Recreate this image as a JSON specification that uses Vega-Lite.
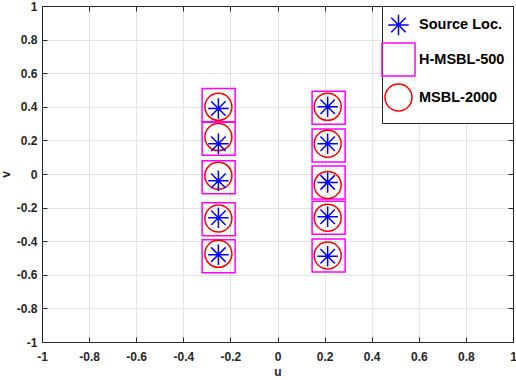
{
  "$schema": "https://vega.github.io/schema/vega-lite/v6.json",
  "width": 471,
  "height": 336,
  "autosize": "none",
  "padding": {"left": 42, "top": 6, "right": 3, "bottom": 38},
  "background": "white",
  "config": {
    "view": {"stroke": "#262626", "strokeWidth": 1},
    "font": "Liberation Sans",
    "axis": {
      "labelFont": "Liberation Sans",
      "labelFontWeight": "bold",
      "labelFontSize": 12,
      "labelColor": "#262626",
      "titleFont": "Liberation Sans",
      "titleFontWeight": "bold",
      "titleFontSize": 12,
      "titleColor": "#262626",
      "domainColor": "#262626",
      "tickColor": "#262626",
      "gridColor": "#e3e3e3",
      "gridOpacity": 1,
      "tickSize": -5
    }
  },
  "data": {
    "values": [
      {"series": "H-MSBL-500", "u": -0.250, "v": 0.41},
      {"series": "H-MSBL-500", "u": -0.250, "v": 0.21},
      {"series": "H-MSBL-500", "u": -0.250, "v": -0.02},
      {"series": "H-MSBL-500", "u": -0.250, "v": -0.27},
      {"series": "H-MSBL-500", "u": -0.250, "v": -0.49},
      {"series": "H-MSBL-500", "u": 0.217, "v": 0.395},
      {"series": "H-MSBL-500", "u": 0.217, "v": 0.17},
      {"series": "H-MSBL-500", "u": 0.217, "v": -0.05},
      {"series": "H-MSBL-500", "u": 0.217, "v": -0.26},
      {"series": "H-MSBL-500", "u": 0.217, "v": -0.485},
      {"series": "MSBL-2000", "u": -0.251, "v": 0.40},
      {"series": "MSBL-2000", "u": -0.251, "v": 0.22},
      {"series": "MSBL-2000", "u": -0.251, "v": -0.01},
      {"series": "MSBL-2000", "u": -0.251, "v": -0.265},
      {"series": "MSBL-2000", "u": -0.251, "v": -0.475},
      {"series": "MSBL-2000", "u": 0.213, "v": 0.40},
      {"series": "MSBL-2000", "u": 0.213, "v": 0.18},
      {"series": "MSBL-2000", "u": 0.213, "v": -0.065},
      {"series": "MSBL-2000", "u": 0.213, "v": -0.26},
      {"series": "MSBL-2000", "u": 0.213, "v": -0.485},
      {"series": "Source Loc.", "u": -0.251, "v": 0.39},
      {"series": "Source Loc.", "u": -0.251, "v": 0.18},
      {"series": "Source Loc.", "u": -0.251, "v": -0.04},
      {"series": "Source Loc.", "u": -0.251, "v": -0.26},
      {"series": "Source Loc.", "u": -0.251, "v": -0.48},
      {"series": "Source Loc.", "u": 0.213, "v": 0.40},
      {"series": "Source Loc.", "u": 0.213, "v": 0.18},
      {"series": "Source Loc.", "u": 0.213, "v": -0.05},
      {"series": "Source Loc.", "u": 0.213, "v": -0.255},
      {"series": "Source Loc.", "u": 0.213, "v": -0.49}
    ]
  },
  "resolve": {"axis": {"x": "independent", "y": "independent"}},
  "layer": [
    {
      "mark": {"type": "point", "filled": false, "strokeWidth": 1.5, "opacity": 1},
      "encoding": {
        "x": {
          "field": "u", "type": "quantitative",
          "scale": {"domain": [-1, 1], "nice": false, "zero": false},
          "axis": {"orient": "bottom", "values": [-1, -0.8, -0.6, -0.4, -0.2, 0, 0.2, 0.4, 0.6, 0.8, 1], "labelExpr": "toString(datum.value)", "title": "u", "titlePadding": 4, "labelPadding": 14, "labelFlush": false}
        },
        "y": {
          "field": "v", "type": "quantitative",
          "scale": {"domain": [-1, 1], "nice": false, "zero": false},
          "axis": {"orient": "left", "values": [-1, -0.8, -0.6, -0.4, -0.2, 0, 0.2, 0.4, 0.6, 0.8, 1], "labelExpr": "toString(datum.value)", "title": "v", "titlePadding": 4, "labelPadding": 10, "labelFlush": false}
        },
        "color": {
          "field": "series", "type": "nominal",
          "scale": {"domain": ["Source Loc.", "H-MSBL-500", "MSBL-2000"], "range": ["#0000ff", "#ff00ff", "#ff0000"]},
          "legend": {
            "title": null,
            "orient": "top-right",
            "offset": 0,
            "fillColor": "white",
            "strokeColor": "#262626",
            "padding": 8,
            "rowPadding": 0,
            "labelFont": "Liberation Sans",
            "labelFontWeight": "bold",
            "labelFontSize": 14.5,
            "labelColor": "black",
            "symbolStrokeWidth": 1.5,
            "symbolOffset": -9,
            "labelOffset": 3
          }
        },
        "shape": {
          "field": "series", "type": "nominal",
          "scale": {"domain": ["Source Loc.", "H-MSBL-500", "MSBL-2000"], "range": ["M-1,0L1,0M0,-1L0,1M-0.7071,-0.7071L0.7071,0.7071M-0.7071,0.7071L0.7071,-0.7071", "square", "circle"]}
        },
        "size": {
          "field": "series", "type": "nominal",
          "scale": {"type": "ordinal", "domain": ["Source Loc.", "H-MSBL-500", "MSBL-2000"], "range": [420, 1090, 730]}
        }
      }
    },
    {
      "mark": {"type": "point", "opacity": 0},
      "encoding": {
        "x": {"field": "u", "type": "quantitative", "axis": {"orient": "top", "labels": false, "title": null, "grid": false, "values": [-1, -0.8, -0.6, -0.4, -0.2, 0, 0.2, 0.4, 0.6, 0.8, 1]}},
        "y": {"field": "v", "type": "quantitative", "axis": {"orient": "right", "labels": false, "title": null, "grid": false, "values": [-1, -0.8, -0.6, -0.4, -0.2, 0, 0.2, 0.4, 0.6, 0.8, 1]}}
      }
    }
  ]
}
